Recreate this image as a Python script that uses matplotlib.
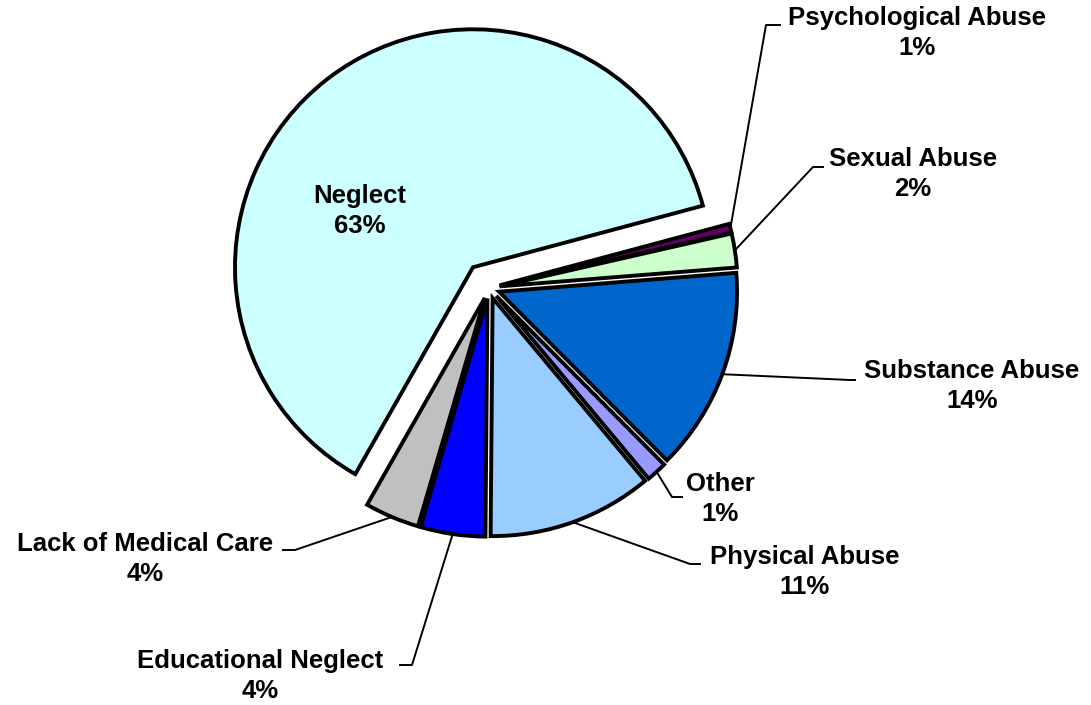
import numpy as np
import matplotlib
matplotlib.use("Agg")
from matplotlib import pyplot as plt

labels = ["Psychological Abuse", "Sexual Abuse", "Substance Abuse", "Other",
          "Physical Abuse", "Educational Neglect", "Lack of Medical Care", "Neglect"]
values = [0.6, 2.3, 13.8, 1.4, 11.2, 4.4, 3.7, 62.6]
pct_text = ["1%", "2%", "14%", "1%", "11%", "4%", "4%", "63%"]
colors = ["#660066", "#CCFFCC", "#0066CC", "#9999FF",
          "#99CCFF", "#0000FF", "#C0C0C0", "#CCFFFF"]
explode = [0.045, 0.045, 0.045, 0.045, 0.045, 0.045, 0.045, 0.11]

W, H = 1091, 705
CX, CY, R = 489, 288, 238


def px(x, y):
    # pixel position (from top-left) -> data coords
    return (x - CX) / R, (CY - y) / R


plt.rcParams['font.family'] = ['Liberation Sans', 'DejaVu Sans']
fig = plt.figure(figsize=(W / 100, H / 100), dpi=100)
ax = fig.add_axes([0, 0, 1, 1])

wedges, _ = ax.pie(values, colors=colors, explode=explode, startangle=15,
                   counterclock=False, radius=1.0,
                   wedgeprops=dict(edgecolor="black", linewidth=2.8))

ax.set_xlim(-CX / R, (W - CX) / R)
ax.set_ylim(-(H - CY) / R, CY / R)
ax.set_aspect('equal')
ax.axis('off')

# label block centre, leader elbow and leader end (pixels)
label_pos = {
    "Psychological Abuse": ((917, 33), (766, 25), (780, 25)),
    "Sexual Abuse": ((913, 174), (813, 167), (823, 167)),
    "Substance Abuse": ((972, 386), (850, 380), (855, 380)),
    "Other": ((720, 499), (672, 497), (682, 497)),
    "Physical Abuse": ((805, 572), (690, 564), (700, 564)),
    "Educational Neglect": ((260, 676), (412, 665), (400, 665)),
    "Lack of Medical Care": ((145, 559), (295, 550), (283, 550)),
    "Neglect": ((360, 211), None, None),
}

for w, lab, pct in zip(wedges, labels, pct_text):
    (tx, ty), elbow, end = label_pos[lab]
    ax.text(*px(tx, ty), f"{lab}\n{pct}", ha="center", va="center",
            fontsize=18.5, fontweight="bold", linespacing=1.35)
    if elbow is None:
        continue
    mid = np.deg2rad((w.theta1 + w.theta2) / 2)
    x0 = w.center[0] + w.r * np.cos(mid)
    y0 = w.center[1] + w.r * np.sin(mid)
    ex, ey = px(*elbow)
    nx, ny = px(*end)
    ax.plot([x0, ex, nx], [y0, ey, ny], color="black", lw=1.4, zorder=0)

fig.savefig("out.png", dpi=100)
